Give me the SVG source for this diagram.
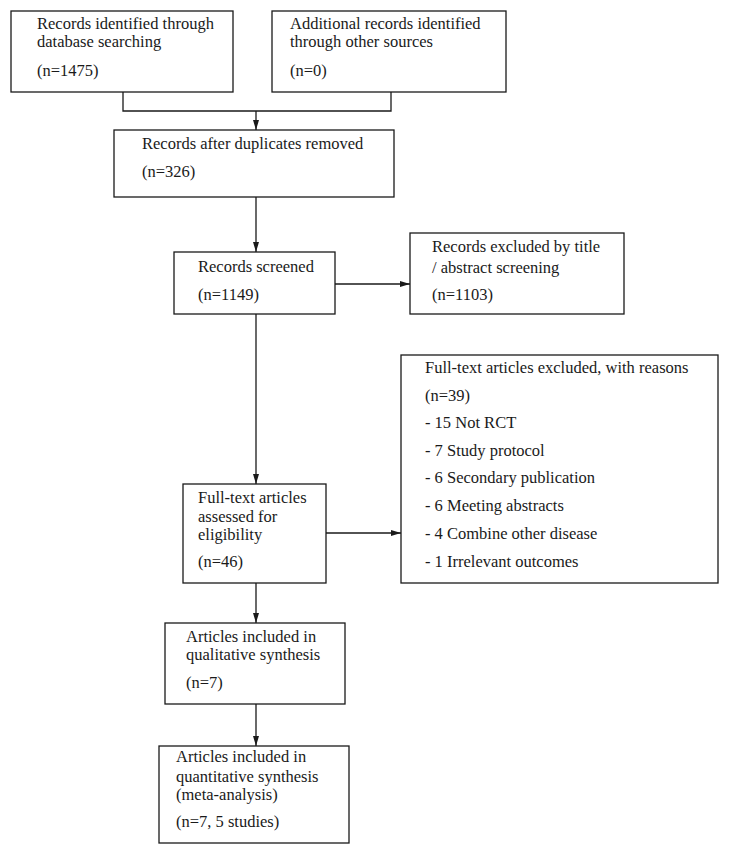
<svg xmlns="http://www.w3.org/2000/svg" width="729" height="854" viewBox="0 0 729 854">
<style>
.box{fill:#fff;stroke:#1a1a1a;stroke-width:1.3}
.t{font-family:"Liberation Serif","Times New Roman",serif;font-size:16.5px;fill:#1a1a1a}
.c{fill:none;stroke:#1a1a1a;stroke-width:1.3}
</style>
<defs>
<marker id="ah" viewBox="0 0 10 10" refX="10" refY="5" markerWidth="10" markerHeight="10" markerUnits="userSpaceOnUse" orient="auto">
<path d="M0,2 L10,5 L0,8 Z" fill="#1a1a1a"/>
</marker>
</defs>
<rect width="729" height="854" fill="#fff"/>
<g id="connectors">
<polyline class="c" points="123,92 123,111 391,111 391,92"/>
<line class="c" x1="256" y1="111" x2="256" y2="130" marker-end="url(#ah)"/>
<line class="c" x1="256" y1="197" x2="256" y2="252" marker-end="url(#ah)"/>
<line class="c" x1="335" y1="284" x2="410" y2="284" marker-end="url(#ah)"/>
<line class="c" x1="256" y1="314" x2="256" y2="484" marker-end="url(#ah)"/>
<line class="c" x1="326" y1="533" x2="401" y2="533" marker-end="url(#ah)"/>
<line class="c" x1="256" y1="583" x2="256" y2="623" marker-end="url(#ah)"/>
<line class="c" x1="256" y1="704" x2="256" y2="746" marker-end="url(#ah)"/>
</g>
<g id="n1">
<rect class="box" x="11" y="11" width="222" height="81"/>
<text class="t" x="37" y="29">Records identified through</text>
<text class="t" x="37" y="47">database searching</text>
<text class="t" x="37" y="76">(n=1475)</text>
</g>
<g id="n2">
<rect class="box" x="272" y="11" width="234" height="81"/>
<text class="t" x="290" y="29">Additional records identified</text>
<text class="t" x="290" y="47">through other sources</text>
<text class="t" x="290" y="76">(n=0)</text>
</g>
<g id="n3">
<rect class="box" x="114" y="130" width="280" height="67"/>
<text class="t" x="142" y="149">Records after duplicates removed</text>
<text class="t" x="142" y="177">(n=326)</text>
</g>
<g id="n4">
<rect class="box" x="174" y="252" width="161" height="62"/>
<text class="t" x="198" y="272">Records screened</text>
<text class="t" x="198" y="300">(n=1149)</text>
</g>
<g id="n5">
<rect class="box" x="410" y="233" width="214" height="81"/>
<text class="t" x="432" y="252">Records excluded by title</text>
<text class="t" x="432" y="273">/ abstract screening</text>
<text class="t" x="432" y="300">(n=1103)</text>
</g>
<g id="n6">
<rect class="box" x="183" y="484" width="143" height="99"/>
<text class="t" x="198" y="503">Full-text articles</text>
<text class="t" x="198" y="522">assessed for</text>
<text class="t" x="198" y="540">eligibility</text>
<text class="t" x="198" y="567">(n=46)</text>
</g>
<g id="n7">
<rect class="box" x="401" y="355" width="317" height="228"/>
<text class="t" x="425" y="373">Full-text articles excluded, with reasons</text>
<text class="t" x="425" y="401">(n=39)</text>
<text class="t" x="425" y="428">- 15 Not RCT</text>
<text class="t" x="425" y="456">- 7 Study protocol</text>
<text class="t" x="425" y="483">- 6 Secondary publication</text>
<text class="t" x="425" y="511">- 6 Meeting abstracts</text>
<text class="t" x="425" y="539">- 4 Combine other disease</text>
<text class="t" x="425" y="567">- 1 Irrelevant outcomes</text>
</g>
<g id="n8">
<rect class="box" x="165" y="623" width="180" height="81"/>
<text class="t" x="186" y="642">Articles included in</text>
<text class="t" x="186" y="660">qualitative synthesis</text>
<text class="t" x="186" y="688">(n=7)</text>
</g>
<g id="n9">
<rect class="box" x="159" y="746" width="190" height="97"/>
<text class="t" x="176" y="762">Articles included in</text>
<text class="t" x="176" y="782">quantitative synthesis</text>
<text class="t" x="176" y="800">(meta-analysis)</text>
<text class="t" x="176" y="827">(n=7, 5 studies)</text>
</g>
</svg>
